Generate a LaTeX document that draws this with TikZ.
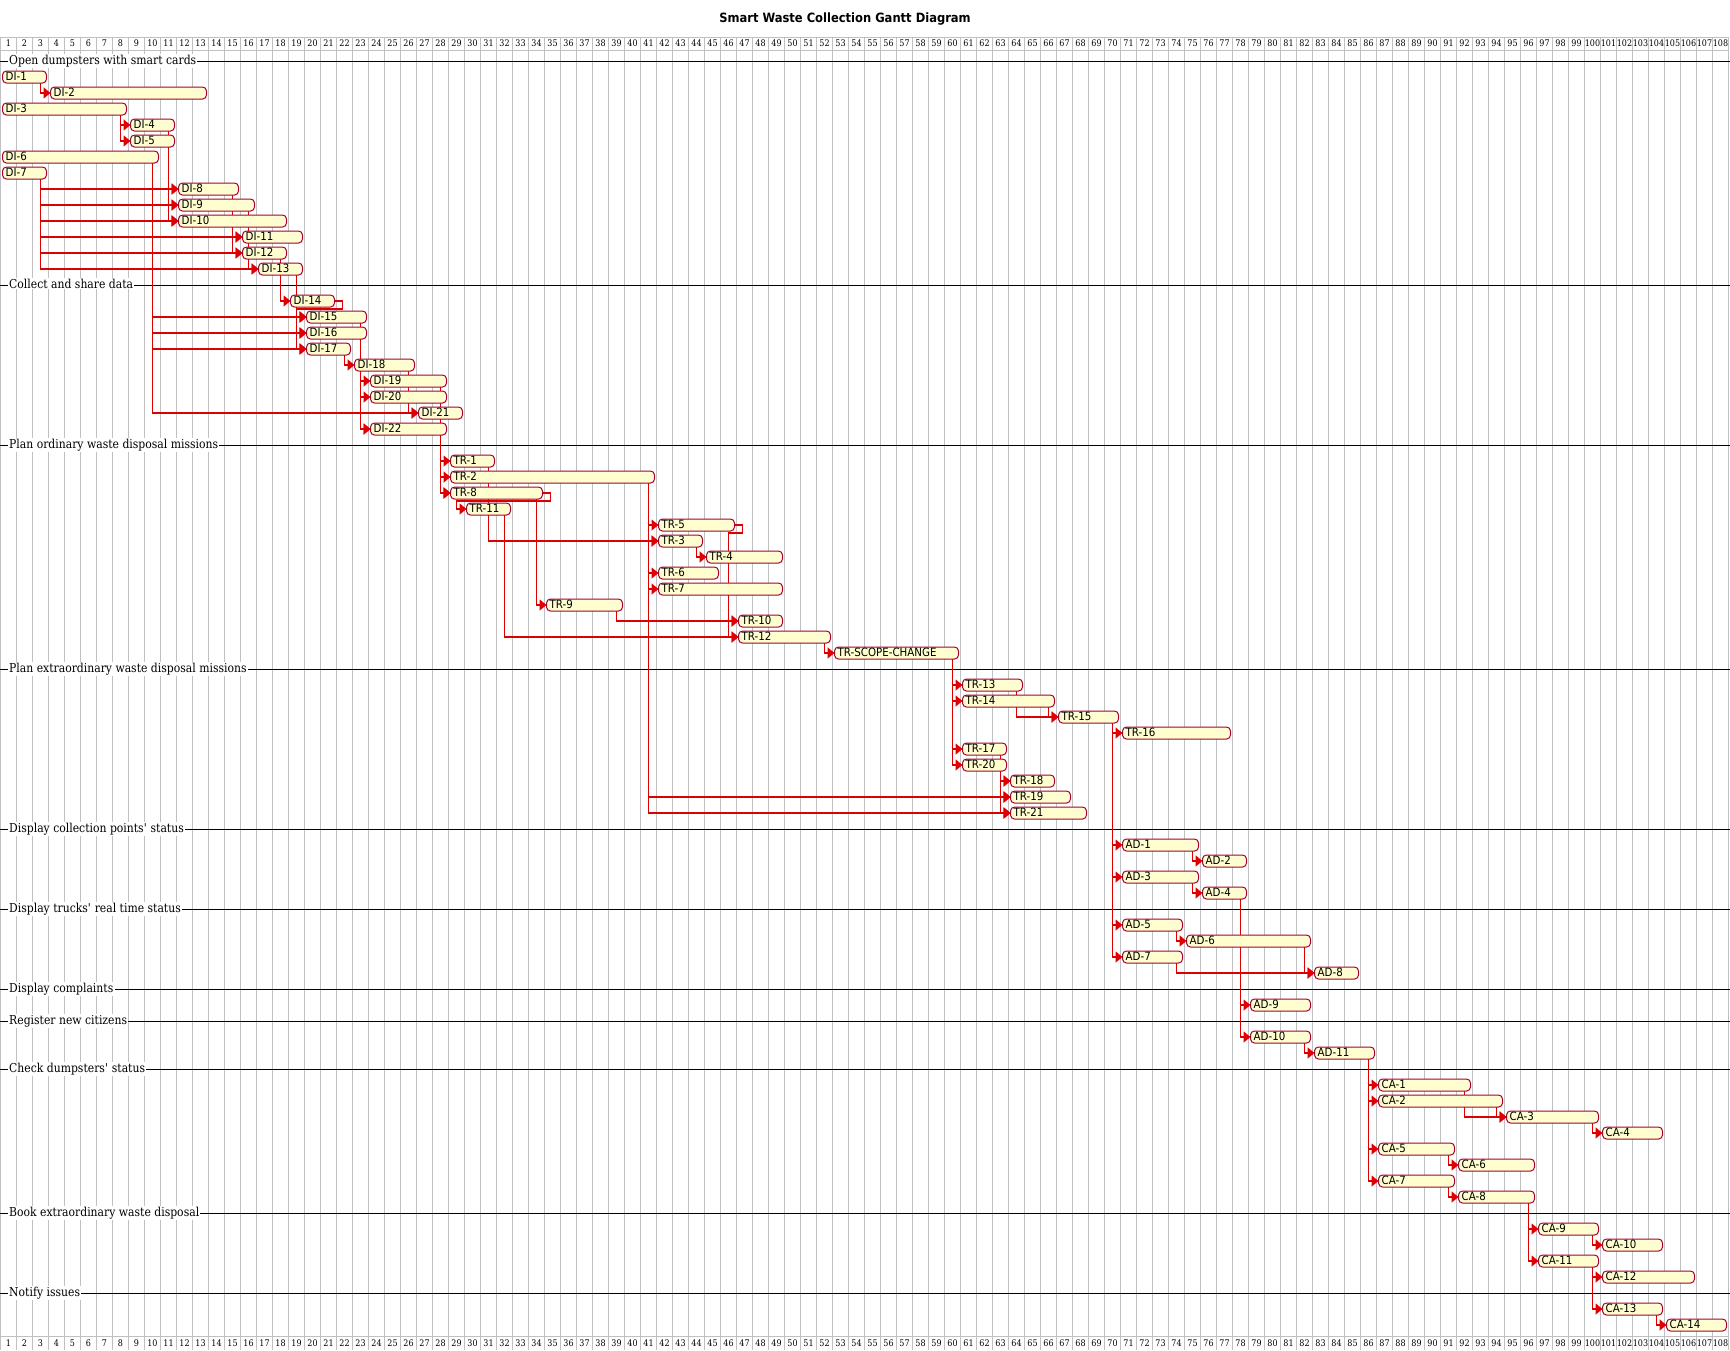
\documentclass[tikz,border=0pt]{standalone}
\usepackage{fontspec}
\setmainfont{DejaVu Serif}[FakeStretch=0.88]
\newfontfamily\barfont{DejaVu Sans}[FakeStretch=0.9]
\usetikzlibrary{arrows.meta}
\definecolor{barfill}{HTML}{FEFECE}
\definecolor{barline}{HTML}{A80036}
\definecolor{deplink}{HTML}{DD0000}
\definecolor{gridgray}{HTML}{C0C0C0}
\pgfdeclarelayer{grid}
\pgfdeclarelayer{links}
\pgfsetlayers{grid,links,main}

\begin{document}
\begin{tikzpicture}[
  x=1pt, y=-1pt,
  tsk/.style={draw=barline, fill=barfill, line width=1pt, rounded corners=4pt,
    minimum height=12pt, inner sep=0pt, outer sep=0pt, anchor=west},
  tsklbl/.style={anchor=base west, inner sep=0pt, font=\barfont\fontsize{11.4}{13}\selectfont},
  dep/.style={draw=deplink, line width=1.5pt, -{Triangle[length=7pt,width=11pt]}},
  sect/.style={anchor=base west, fill=white, inner xsep=1.2pt, inner ysep=1pt,
    font=\fontsize{12.3}{14}\selectfont},
  daynum/.style={anchor=base, inner sep=0pt, font=\fontsize{9.1}{10}\selectfont},
  gridln/.style={draw=gridgray, line width=1pt}
]
\useasboundingbox (0,0) rectangle (1730,1350);

% title
\node[anchor=base, font=\barfont\bfseries\fontsize{12.8}{15}\selectfont] (title) at (845,22.7)
  {Smart Waste Collection Gantt Diagram};

% tasks: name/start/end/row
\foreach \n/\s/\e/\r in {DI-1/1/3/1, DI-2/4/13/2, DI-3/1/8/3, DI-4/9/11/4,
    DI-5/9/11/5, DI-6/1/10/6, DI-7/1/3/7, DI-8/12/15/8, DI-9/12/16/9,
    DI-10/12/18/10, DI-11/16/19/11, DI-12/16/18/12, DI-13/17/19/13,
    DI-14/19/21/15, DI-15/20/23/16, DI-16/20/23/17, DI-17/20/22/18,
    DI-18/23/26/19, DI-19/24/28/20, DI-20/24/28/21, DI-21/27/29/22,
    DI-22/24/28/23,
    TR-1/29/31/25, TR-2/29/41/26, TR-8/29/34/27, TR-11/30/32/28,
    TR-5/42/46/29, TR-3/42/44/30, TR-4/45/49/31, TR-6/42/45/32,
    TR-7/42/49/33, TR-9/35/39/34, TR-10/47/49/35, TR-12/47/52/36,
    TR-SCOPE-CHANGE/53/60/37,
    TR-13/61/64/39, TR-14/61/66/40, TR-15/67/70/41, TR-16/71/77/42,
    TR-17/61/63/43, TR-20/61/63/44, TR-18/64/66/45, TR-19/64/67/46,
    TR-21/64/68/47,
    AD-1/71/75/49, AD-2/76/78/50, AD-3/71/75/51, AD-4/76/78/52,
    AD-5/71/74/54, AD-6/75/82/55, AD-7/71/74/56, AD-8/83/85/57,
    AD-9/79/82/59, AD-10/79/82/61, AD-11/83/86/62,
    CA-1/87/92/64, CA-2/87/94/65, CA-3/95/100/66, CA-4/101/104/67,
    CA-5/87/91/68, CA-6/92/96/69, CA-7/87/91/70, CA-8/92/96/71,
    CA-9/97/100/73, CA-10/101/104/74, CA-11/97/100/75, CA-12/101/106/76,
    CA-13/101/104/78, CA-14/105/108/79} {
  \node[tsk, minimum width={16*(\e-\s+1)-4}] (\n) at ({16*(\s-1)+2.5},{61+16*\r}) {};
  \node[tsklbl] (lbl-\n) at ([xshift=3pt,yshift=-3.3pt]\n.west) {\n};
}

\begin{pgfonlayer}{grid}
\fill[white] (0,0) rectangle (1730,1350);
% day grid and headers
\foreach \k in {0,...,108}
  \draw[gridln] ({16*\k+0.5},37.3) -- ({16*\k+0.5},1350);
\draw[gridln] (0.5,37.3) -- (1728.5,37.3);
\draw[gridln] (0.5,50) -- (1728.5,50);
\draw[gridln] (0.5,1336.7) -- (1728.5,1336.7);
\foreach \d in {1,...,108} {
  \node[daynum] (top\d) at ({16*\d-7.5},46.5) {\d};
  \node[daynum] (bot\d) at ({16*\d-7.5},1346) {\d};
}
% sections
\foreach \r/\t in {0/Open dumpsters with smart cards,
    14/Collect and share data,
    24/Plan ordinary waste disposal missions,
    38/Plan extraordinary waste disposal missions,
    48/Display collection points\textquotesingle{} status,
    53/Display trucks\textquotesingle{} real time status,
    58/Display complaints,
    60/Register new citizens,
    63/Check dumpsters\textquotesingle{} status,
    72/Book extraordinary waste disposal,
    77/Notify issues} {
  \draw[black, line width=1pt] (0,{61+16*\r}) -- (1730,{61+16*\r});
  \node[sect] (sect\r) at (7.8,{64.3+16*\r}) {\t};
}
\end{pgfonlayer}

\begin{pgfonlayer}{links}
% dependencies (finish to start)
\foreach \a/\b in {DI-1/DI-2, DI-3/DI-4, DI-3/DI-5, DI-4/DI-10, DI-5/DI-8,
    DI-5/DI-9, DI-5/DI-10, DI-7/DI-8, DI-7/DI-9, DI-7/DI-10, DI-7/DI-11,
    DI-7/DI-12, DI-7/DI-13, DI-6/DI-15, DI-6/DI-16, DI-6/DI-17, DI-6/DI-21,
    DI-8/DI-11, DI-8/DI-12, DI-9/DI-13, DI-12/DI-14, DI-13/DI-15,
    DI-13/DI-16, DI-13/DI-17, DI-15/DI-22, DI-16/DI-19, DI-16/DI-20,
    DI-16/DI-22, DI-17/DI-18, DI-18/DI-21, DI-19/TR-8, DI-20/TR-8,
    DI-22/TR-1, DI-22/TR-2, DI-22/TR-8,
    TR-1/TR-3, TR-2/TR-5, TR-2/TR-3, TR-2/TR-6, TR-2/TR-7, TR-2/TR-19,
    TR-2/TR-21, TR-8/TR-9, TR-11/TR-12, TR-3/TR-4, TR-9/TR-10,
    TR-12/TR-SCOPE-CHANGE, TR-SCOPE-CHANGE/TR-13, TR-SCOPE-CHANGE/TR-14,
    TR-SCOPE-CHANGE/TR-17, TR-SCOPE-CHANGE/TR-20, TR-13/TR-15, TR-14/TR-15,
    TR-17/TR-18, TR-17/TR-19, TR-17/TR-21, TR-20/TR-18, TR-20/TR-19,
    TR-20/TR-21, TR-15/TR-16, TR-15/AD-1, TR-15/AD-3, TR-15/AD-5,
    TR-15/AD-7,
    AD-1/AD-2, AD-3/AD-4, AD-4/AD-9, AD-4/AD-10, AD-5/AD-6, AD-7/AD-8,
    AD-6/AD-8, AD-10/AD-11, AD-11/CA-1, AD-11/CA-2, AD-11/CA-5, AD-11/CA-7,
    CA-1/CA-3, CA-2/CA-3, CA-3/CA-4, CA-5/CA-6, CA-7/CA-8, CA-8/CA-9,
    CA-8/CA-11, CA-9/CA-10, CA-11/CA-12, CA-11/CA-13, CA-13/CA-14}
  \draw[dep] ([xshift=-6pt]\a.south east) |- (\b.west);

% dependencies that loop back round the source bar
\foreach \a/\b in {DI-14/DI-15, DI-14/DI-16, DI-14/DI-17, TR-8/TR-11,
    TR-5/TR-10, TR-5/TR-12}
  \draw[dep] (\a.east) -- ++(8,0) -- ++(0,8) -| ([xshift=-10pt]\b.west) -- (\b.west);
\end{pgfonlayer}
\end{tikzpicture}
\end{document}
